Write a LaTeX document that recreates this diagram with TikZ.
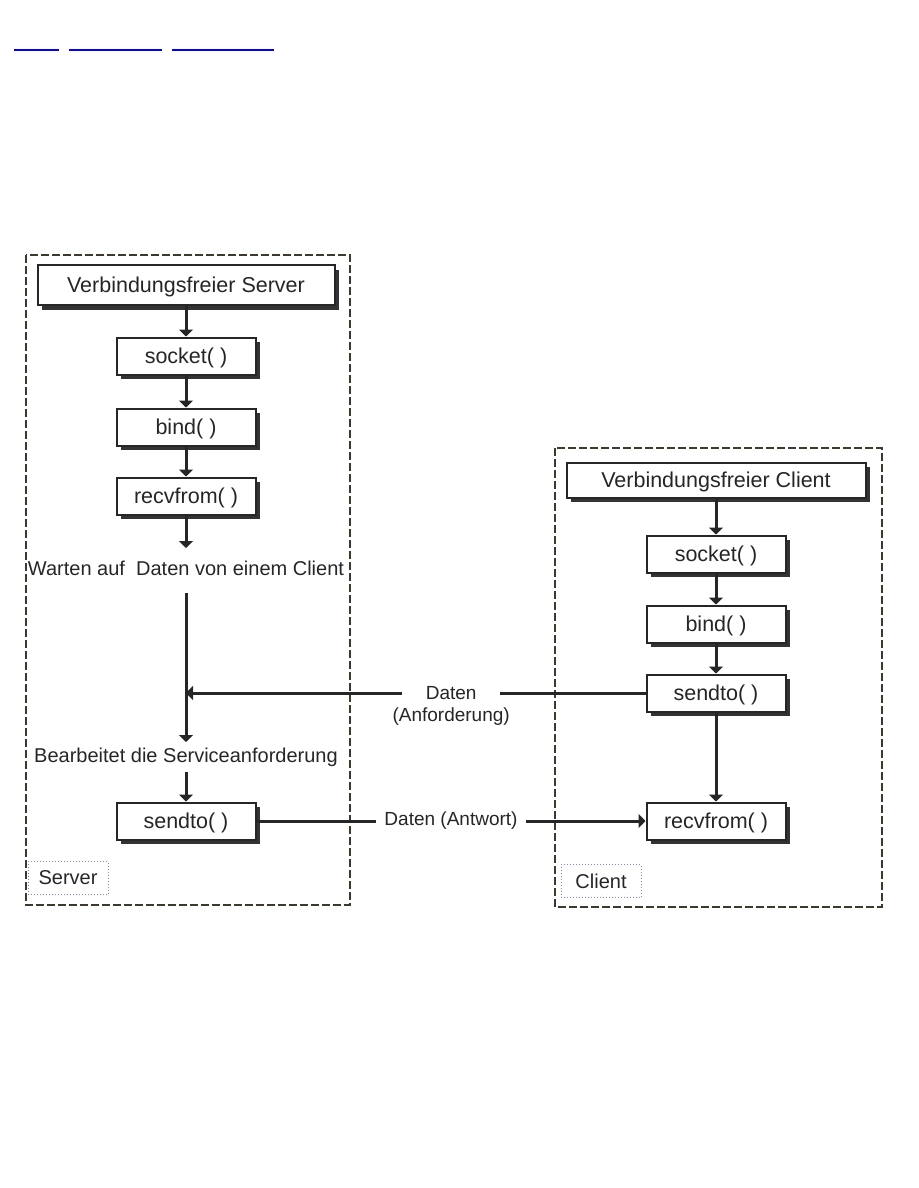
\documentclass[tikz,border=0pt]{standalone}
\usepackage{fontspec}
\setmainfont{Liberation Sans}
\usetikzlibrary{arrows.meta,shadows}
\begin{document}
\begin{tikzpicture}[x=1pt,y=-1pt,color=black!85,font=\fontsize{20}{24}\selectfont,
  fn/.style={draw,line width=2pt,fill=white,minimum width=139pt,minimum height=37pt,inner sep=0pt,
    text height=15pt,text depth=1pt,font=\fontsize{21.5}{24}\selectfont,
    drop shadow={shadow xshift=4.5pt,shadow yshift=-4.5pt,fill=black!80,opacity=1}},
  txt/.style={inner sep=0pt,outer sep=6pt,text height=14pt,text depth=4pt},
  arr/.style={-{Triangle[width=14pt,length=7pt]},line width=3pt},
  msg/.style={fill=white,inner ysep=2pt,font=\fontsize{19}{22}\selectfont},
  frame/.style={draw=black!75!olive,dash pattern=on 8pt off 3pt,line width=1.4pt},
  tag/.style={draw=blue!50,dotted,line width=1pt,minimum width=80pt,minimum height=33pt}]
\useasboundingbox (0,0) rectangle (918,1188);
% link bar
\foreach \a/\b in {14/59,69/162,172/274}{\draw[blue,line width=1.2pt] (\a,50) -- (\b,50);}
% frames
\draw[frame] (26,255) rectangle (350,905);
\draw[frame] (555,448) rectangle (882,907);
\node[tag] (stag) at (68,878) {Server};
\node[tag] (ctag) at (601,881) {Client};
% server side
\node[fn,minimum width=297pt,minimum height=40pt] (vs) at (186,285) {Verbindungsfreier Server};
\node[fn] (ssk) at (186,356) {socket( )};
\node[fn] (sbd) at (186,427) {bind( )};
\node[fn] (srf) at (186,496) {recvfrom( )};
\node[txt] (wait) at (186,570) {Warten auf\ \ Daten von einem Client};
\node[txt] (proc) at (186,757) {Bearbeitet die Serviceanforderung};
\node[fn] (ssd) at (186,821) {sendto( )};
% client side
\node[fn,minimum width=299pt,minimum height=35pt] (vc) at (716,480) {Verbindungsfreier Client};
\node[fn] (csk) at (716,554) {socket( )};
\node[fn] (cbd) at (716,624) {bind( )};
\node[fn] (csd) at (716,693) {sendto( )};
\node[fn] (crf) at (716,821) {recvfrom( )};
% flow
\foreach \a/\b in {vs/ssk,ssk/sbd,sbd/srf,vc/csk,csk/cbd,cbd/csd,csd/crf,proc/ssd}{\draw[arr] (\a) -- (\b);}
\draw[arr,shorten >=7pt] (srf) -- (wait);
\draw[arr,shorten <=8pt] (wait) -- (proc);
\path (wait.south |- csd.west) coordinate (hit);
\draw[arr] (csd.west) -- node[msg,pos=.423,inner xsep=24pt,label={[font=\fontsize{19}{22}\selectfont,inner sep=0pt,label distance=3pt]below:(Anforderung)}] (rq) {Daten} (hit);
\draw[arr] (ssd.east) -- node[msg,inner xsep=8pt] (rp) {Daten (Antwort)} (crf.west);
\end{tikzpicture}
\end{document}
